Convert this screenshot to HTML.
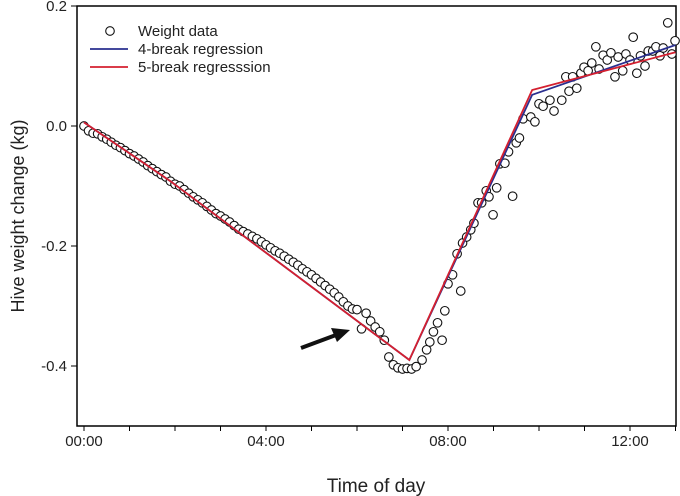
<!DOCTYPE html>
<html><head><meta charset="utf-8"><style>
html,body{margin:0;padding:0;background:#fff;}
svg{display:block;font-family:"Liberation Sans",Arial,sans-serif;}
</style></head><body>
<svg id="chart" width="680" height="496" viewBox="0 0 680 496"></svg>
<script>
const tickHours = [0, 4, 8, 12];
const tickLabels = ["00:00", "04:00", "08:00", "12:00"];
const minorHours = [0,1,2,3,4,5,6,7,8,9,10,11,12,13];
const yTicks = [0.2, 0.0, -0.2, -0.4];
const yTickLabels = ["0.2", "0.0", "-0.2", "-0.4"];
const times = [0.0,0.1,0.2,0.3,0.4,0.5,0.6,0.7,0.8,0.9,1.0,1.1,1.2,1.3,1.4,1.5,1.6,1.7,1.8,1.9,2.0,2.1,2.2,2.3,2.4,2.5,2.6,2.7,2.8,2.9,3.0,3.1,3.2,3.3,3.4,3.5,3.6,3.7,3.8,3.9,4.0,4.1,4.2,4.3,4.4,4.5,4.6,4.7,4.8,4.9,5.0,5.1,5.2,5.3,5.4,5.5,5.6,5.7,5.8,5.9,6.0,6.1,6.2,6.3,6.4,6.5,6.6,6.7,6.8,6.9,7.0,7.1,7.2,7.3,7.43,7.53,7.6,7.68,7.77,7.87,7.93,8.0,8.1,8.2,8.28,8.32,8.41,8.5,8.57,8.66,8.74,8.84,8.9,8.99,9.07,9.14,9.25,9.33,9.42,9.5,9.57,9.65,9.82,9.91,10.0,10.09,10.24,10.33,10.5,10.59,10.66,10.74,10.83,10.92,10.99,11.08,11.16,11.25,11.32,11.41,11.5,11.58,11.67,11.74,11.84,11.91,12.0,12.07,12.15,12.23,12.33,12.4,12.5,12.57,12.66,12.73,12.83,12.92,12.99];
const weights = [0.000,-0.008,-0.012,-0.013,-0.018,-0.022,-0.027,-0.032,-0.036,-0.041,-0.046,-0.050,-0.055,-0.060,-0.066,-0.071,-0.076,-0.081,-0.085,-0.092,-0.097,-0.100,-0.106,-0.112,-0.118,-0.123,-0.128,-0.134,-0.140,-0.146,-0.150,-0.155,-0.160,-0.166,-0.172,-0.176,-0.180,-0.184,-0.188,-0.193,-0.198,-0.203,-0.208,-0.212,-0.217,-0.222,-0.227,-0.232,-0.238,-0.243,-0.248,-0.254,-0.260,-0.266,-0.272,-0.278,-0.285,-0.293,-0.300,-0.305,-0.306,-0.338,-0.312,-0.325,-0.335,-0.343,-0.357,-0.385,-0.398,-0.403,-0.405,-0.404,-0.405,-0.401,-0.390,-0.373,-0.360,-0.343,-0.328,-0.357,-0.308,-0.263,-0.248,-0.213,-0.275,-0.195,-0.185,-0.173,-0.162,-0.128,-0.128,-0.108,-0.118,-0.148,-0.103,-0.063,-0.062,-0.043,-0.117,-0.028,-0.020,0.012,0.015,0.007,0.037,0.033,0.043,0.025,0.043,0.082,0.058,0.082,0.063,0.088,0.098,0.092,0.105,0.132,0.095,0.118,0.110,0.122,0.082,0.115,0.092,0.120,0.110,0.148,0.088,0.117,0.100,0.125,0.125,0.132,0.117,0.130,0.172,0.120,0.142];
const fit4Times = [0.0, 1.9, 7.15, 9.85, 13.0];
const fit4Values = [0.006, -0.092, -0.390, 0.052, 0.135];
const fit5Times = [0.0, 1.9, 7.15, 9.85, 13.0];
const fit5Values = [0.006, -0.092, -0.390, 0.060, 0.123];

const NS = "http://www.w3.org/2000/svg";
const svg = document.getElementById("chart");
const L = 77, R = 676, T = 6, B = 426;
const xs = h => 84 + h * 45.5;
const ys = v => 126 - v * 600;
function mk(tag, attrs, parent) {
  const e = document.createElementNS(NS, tag);
  for (const k in attrs) e.setAttribute(k, attrs[k]);
  (parent || svg).appendChild(e);
  return e;
}
const frame = mk("rect", {x:L, y:T, width:R-L, height:B-T, fill:"none", stroke:"#000", "stroke-width":1.5});



const xAxis = mk("g", {});


minorHours.forEach(h => {
  const t = mk("line", {x1:xs(h), x2:xs(h), y1:B, y2:B+5, stroke:"#000", "stroke-width":1}, xAxis);
  
  
});
tickHours.forEach((h, i) => {
  const t = mk("text", {x:xs(h), y:446, "text-anchor":"middle", "font-size":"15", fill:"#222"}, xAxis);
  t.textContent = tickLabels[i];
  
  
});
const yAxis = mk("g", {});


yTicks.forEach((v, i) => {
  const t = mk("line", {x1:L-6, x2:L, y1:ys(v), y2:ys(v), stroke:"#000", "stroke-width":1}, yAxis);
  
  
  const lb = mk("text", {x:67, y:ys(v)+5, "text-anchor":"end", "font-size":"15", fill:"#222"}, yAxis);
  lb.textContent = yTickLabels[i];
  
  
});
const xt = mk("text", {x:376, y:492, "text-anchor":"middle", "font-size":"19", fill:"#222"});
xt.textContent = "Time of day";


const yt = mk("text", {x:0, y:0, "text-anchor":"middle", "font-size":"18", fill:"#222", transform:"translate(24,216) rotate(-90)"});
yt.textContent = "Hive weight change (kg)";



const pts = mk("g", {});


times.forEach((t, i) => {
  const c = mk("circle", {cx:xs(t), cy:ys(weights[i]), r:4.3, fill:"#fff", stroke:"#111", "stroke-width":1.1}, pts);
  
  
});
const l4 = mk("polyline", {points:fit4Times.map((t,i)=>xs(t)+","+ys(fit4Values[i])).join(" "), fill:"none", stroke:"#2a2f8f", "stroke-width":1.8});


const l5 = mk("polyline", {points:fit5Times.map((t,i)=>xs(t)+","+ys(fit5Values[i])).join(" "), fill:"none", stroke:"#d42030", "stroke-width":1.8});



const arrow = mk("g", {});


mk("line", {x1:301, y1:348, x2:336, y2:335, stroke:"#111", "stroke-width":4}, arrow);
mk("polygon", {points:"350,330 331,328 337,342", fill:"#111"}, arrow);

const leg = mk("g", {});


const items = [["Weight data", null, 31], ["4-break regression", "#2a2f8f", 49], ["5-break regresssion", "#d42030", 67]];
items.forEach(([lbl, col, y]) => {
  const g = mk("g", {}, leg);
  
  
  if (col) mk("line", {x1:90, x2:128, y1:y, y2:y, stroke:col, "stroke-width":1.8}, g);
  else mk("circle", {cx:110, cy:y, r:4.3, fill:"#fff", stroke:"#111", "stroke-width":1.1}, g);
  const t = mk("text", {x:138, y:y+5, "font-size":"15", fill:"#222"}, g);
  t.textContent = lbl;
});
</script>
</body></html>
